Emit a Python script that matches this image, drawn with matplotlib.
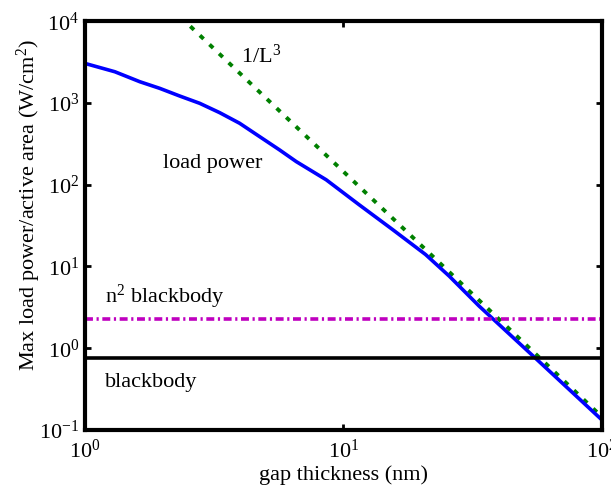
import matplotlib.pyplot as plt
import numpy as np

plt.rcParams['font.family'] = ['Liberation Serif', 'DejaVu Serif']
plt.rcParams['mathtext.fontset'] = 'custom'
plt.rcParams['mathtext.rm'] = 'Liberation Serif'
plt.rcParams['mathtext.it'] = 'Liberation Serif:italic'

# data
gap_nm = [1.0, 1.306, 1.631, 1.948, 2.327, 2.780, 3.320, 3.967, 4.740, 5.66,
          6.57, 8.58, 11.5, 15.5, 20.8, 25.7, 33.5, 57.1, 100.0]
load_power = [3050, 2410, 1820, 1510, 1217, 991, 762, 565, 388, 267,
              192, 115, 57, 28.3, 14, 7.6, 3.28, 0.69, 0.133]
inv_cube_coef = 1.45e5   # 1/L^3 reference line
n2_blackbody = 2.26
blackbody = 0.76

fig = plt.figure(figsize=(6.11, 4.94), dpi=100)
ax = fig.add_axes([0.139, 0.1296, 0.846, 0.8274])

L = np.logspace(0, 2, 200)
ax.plot(L, inv_cube_coef / L**3, color=(0, 0.5, 0), lw=2.8, ls=(0, (1.3, 2.1)))
ax.plot(gap_nm, load_power, color='blue', lw=2.6)
ax.axhline(n2_blackbody, color=(0.75, 0, 0.75), lw=2.6, ls=(0, (2.2, 1.0, 0.6, 1.0)))
ax.axhline(blackbody, color='black', lw=2.6)

ax.set_xscale('log')
ax.set_yscale('log')
ax.set_xlim(1, 100)
ax.set_ylim(0.1, 1e4)
ax.minorticks_off()
ax.tick_params(direction='in', length=4, width=2, labelsize=16, top=True, right=True, pad=4)
ax.tick_params(axis='x', pad=7)
for s in ax.spines.values():
    s.set_linewidth(3)

ax.text(4.0, 3080, '1/L$^3$', fontsize=16, va='baseline')
ax.text(2.0, 161, 'load power', fontsize=16, va='baseline')
ax.text(1.195, 3.64, 'n$^2$ blackbody', fontsize=16, va='baseline')
ax.text(1.195, 0.334, 'blackbody', fontsize=16, va='baseline')

ax.set_xlabel('gap thickness (nm)', fontsize=16, labelpad=2)
ax.set_ylabel('Max load power/active area (W/cm$^2$)', fontsize=16, va='center')
ax.yaxis.set_label_coords(-0.108, 0.55)

fig.savefig('out.png', dpi=100)
